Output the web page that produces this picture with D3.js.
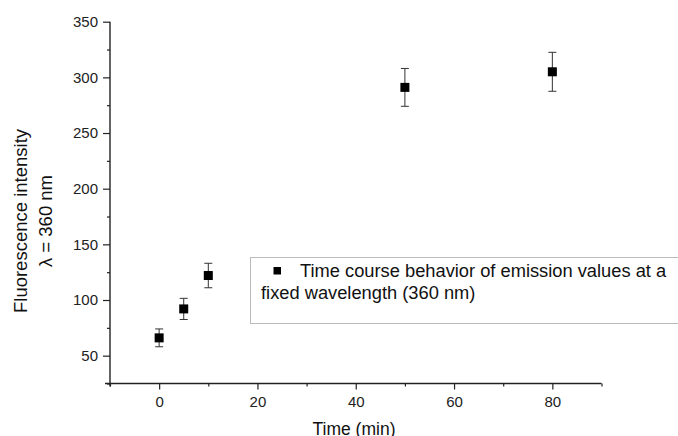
<!DOCTYPE html>
<html>
<head>
<meta charset="utf-8">
<script src="https://cdn.jsdelivr.net/npm/d3@7"></script>
<style>
  body { margin: 0; background: #fff; }
  svg { display: block; font-family: "Liberation Sans", Arial, sans-serif; }
</style>
</head>
<body>
<div id="chart"></div>
<script>
// time points (min), intensity at 360 nm and error bar half-lengths
var times = [0, 5, 10, 50, 80];
var intensity = [66, 92, 122, 291, 305];
var errors = [8, 9.5, 11, 17, 17.5];

var xMajor = [0, 20, 40, 60, 80];
var xMinor = [-10, 10, 30, 50, 70, 90];
var yMajor = [50, 100, 150, 200, 250, 300, 350];
var yMinor = [25, 75, 125, 175, 225, 275, 325];

var legendLines = ["Time course behavior of emission values at a", "fixed wavelength (360 nm)"];

var width = 678, height = 436;

var svg = d3.select("#chart").append("svg")
    .attr("width", width)
    .attr("height", height);

var x = d3.scaleLinear().domain([-10, 90]).range([110, 601.5]);
var y = d3.scaleLinear().domain([25, 350]).range([383.5, 21.7]);

var axisColor = "#222";

// minor ticks first (no labels)
svg.append("g")
  .attr("transform", "translate(0," + y(25) + ")")
  .call(d3.axisBottom(x).tickValues(xMinor).tickSize(3).tickFormat(""))
  .call(function(g) { g.select(".domain").remove(); });

svg.append("g")
  .attr("transform", "translate(" + x(-10) + ",0)")
  .call(d3.axisLeft(y).tickValues(yMinor).tickSize(3).tickFormat(""))
  .call(function(g) { g.select(".domain").remove(); });

var xAxis = svg.append("g")
  .attr("transform", "translate(0," + y(25) + ")")
  .call(d3.axisBottom(x).tickValues(xMajor).tickSize(6).tickPadding(7).tickSizeOuter(0));

var yAxis = svg.append("g")
  .attr("transform", "translate(" + x(-10) + ",0)")
  .call(d3.axisLeft(y).tickValues(yMajor).tickSize(7).tickPadding(5).tickSizeOuter(0));

svg.selectAll(".tick line").attr("stroke", axisColor).attr("stroke-width", 1.2);
svg.selectAll(".domain").attr("stroke", axisColor).attr("stroke-width", 1.4);
svg.selectAll(".tick text")
  .attr("font-family", "Liberation Sans, Arial, sans-serif")
  .attr("font-size", 15)
  .attr("fill", "#222");

// x axis line reaches a bit left of the y axis, as in the original
xAxis.select(".domain").attr("d", "M105,0H" + x(90));
yAxis.select(".domain").attr("d", "M0," + y(350) + "V" + (y(25) + 3));

// axis titles
svg.append("text")
  .attr("x", 354)
  .attr("y", 435)
  .attr("text-anchor", "middle")
  .attr("font-size", 17.5)
  .attr("fill", "#111")
  .text("Time (min)");

var yl = svg.append("text")
  .attr("transform", "translate(27,221) rotate(-90)")
  .attr("text-anchor", "middle")
  .attr("font-size", 18.5)
  .attr("fill", "#111");
yl.append("tspan").attr("x", 0).attr("y", 0).text("Fluorescence intensity");
yl.append("tspan").attr("x", 0).attr("y", 25).text("\u03bb = 360 nm");

// error bars
var pts = times.map(function(t, i) { return {t: t, v: intensity[i], e: errors[i]}; });
var cap = 4;

var eb = svg.append("g").attr("stroke", "#333").attr("stroke-width", 1);
eb.selectAll("line.stem").data(pts).enter().append("line")
  .attr("x1", function(d) { return x(d.t); })
  .attr("x2", function(d) { return x(d.t); })
  .attr("y1", function(d) { return y(d.v + d.e); })
  .attr("y2", function(d) { return y(d.v - d.e); });
eb.selectAll("line.top").data(pts).enter().append("line")
  .attr("x1", function(d) { return x(d.t) - cap; })
  .attr("x2", function(d) { return x(d.t) + cap; })
  .attr("y1", function(d) { return y(d.v + d.e); })
  .attr("y2", function(d) { return y(d.v + d.e); });
eb.selectAll("line.bot").data(pts).enter().append("line")
  .attr("x1", function(d) { return x(d.t) - cap; })
  .attr("x2", function(d) { return x(d.t) + cap; })
  .attr("y1", function(d) { return y(d.v - d.e); })
  .attr("y2", function(d) { return y(d.v - d.e); });

// markers
var ms = 9;
svg.append("g").selectAll("rect").data(pts).enter().append("rect")
  .attr("x", function(d) { return x(d.t) - ms / 2; })
  .attr("y", function(d) { return y(d.v) - ms / 2; })
  .attr("width", ms)
  .attr("height", ms)
  .attr("fill", "#000");

// legend box
var lg = svg.append("g");
lg.append("rect")
  .attr("x", 250.5)
  .attr("y", 257.5)
  .attr("width", 440)
  .attr("height", 66)
  .attr("fill", "#fff")
  .attr("stroke", "#bbb")
  .attr("stroke-width", 1);
lg.append("rect")
  .attr("x", 273.5)
  .attr("y", 267)
  .attr("width", 7.5)
  .attr("height", 7.5)
  .attr("fill", "#000");
lg.append("text")
  .attr("x", 300)
  .attr("y", 277)
  .attr("font-size", 18.3)
  .attr("fill", "#111")
  .text(legendLines[0]);
lg.append("text")
  .attr("x", 261)
  .attr("y", 299)
  .attr("font-size", 18.3)
  .attr("fill", "#111")
  .text(legendLines[1]);
</script>
</body>
</html>
